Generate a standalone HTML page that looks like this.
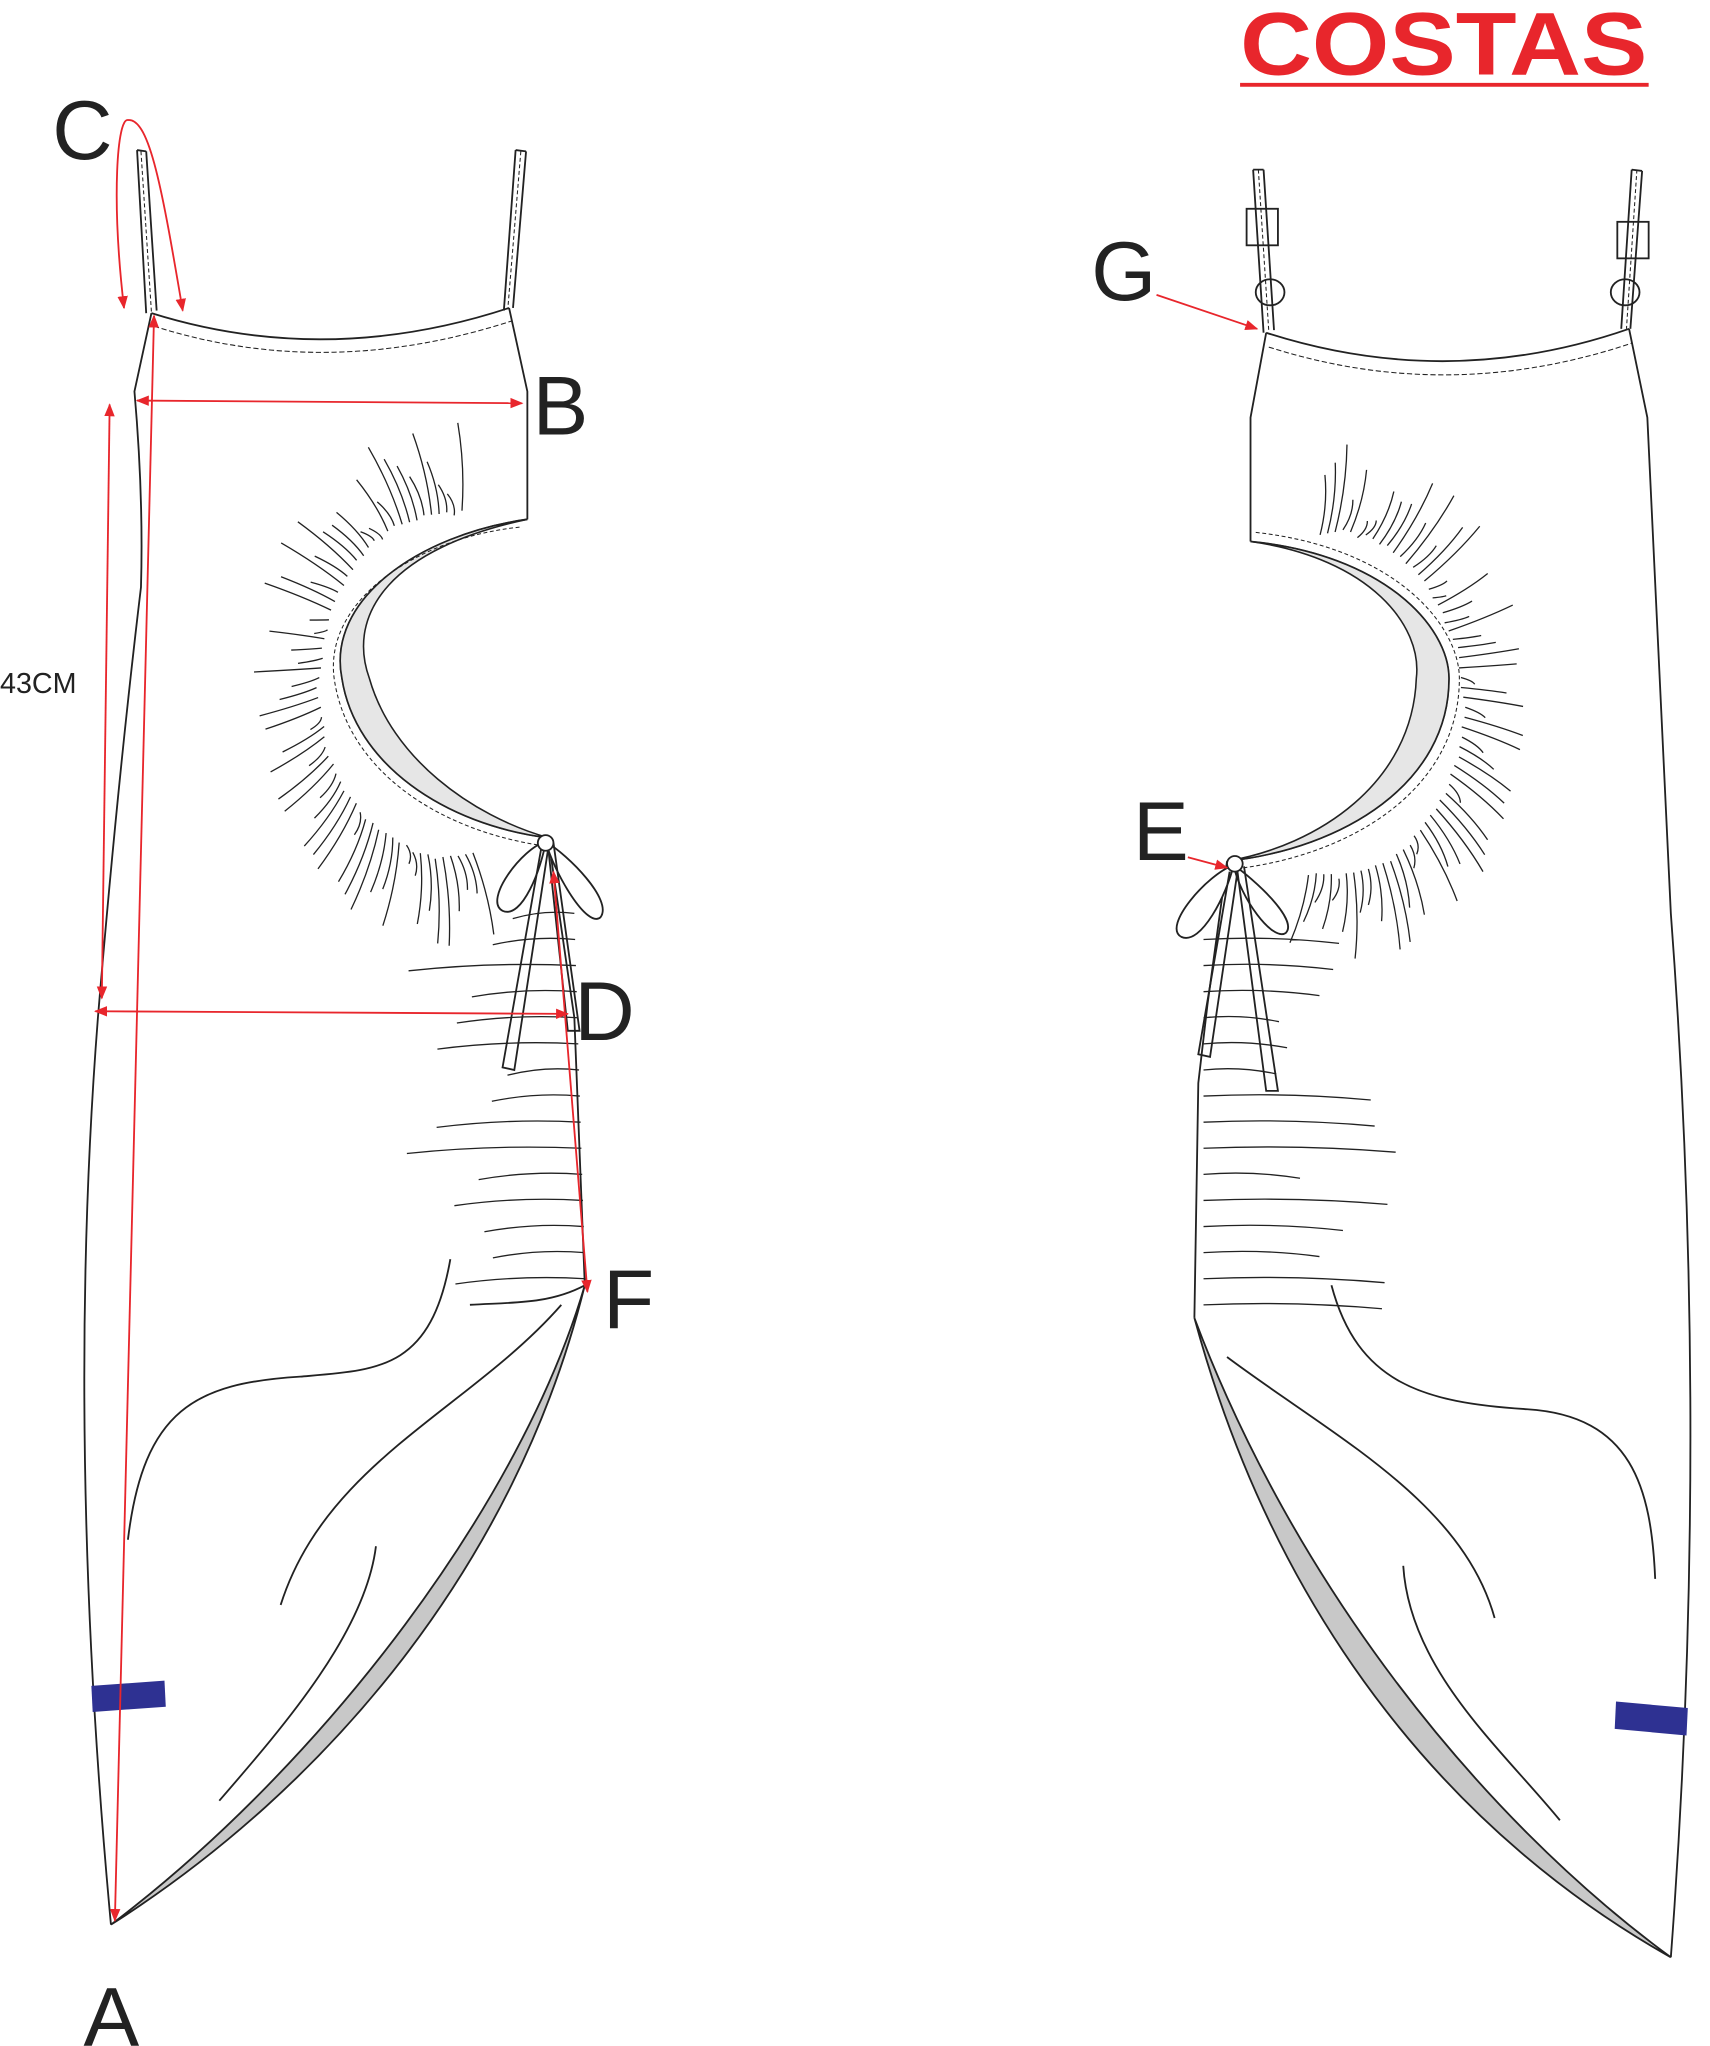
<!DOCTYPE html>
<html><head><meta charset="utf-8"><style>
html,body{margin:0;padding:0;background:#fff}
svg{display:block}
text{font-family:"Liberation Sans",Arial,sans-serif}
</style></head><body>
<svg id="s" width="1710" height="2046" viewBox="0 0 1310 1568" preserveAspectRatio="none" xmlns="http://www.w3.org/2000/svg">
<defs>
<marker id="ar" markerWidth="10" markerHeight="10" refX="9" refY="5" orient="auto-start-reverse" markerUnits="userSpaceOnUse"><path d="M0,1 L10,5 L0,9 z" fill="#e8262c"/></marker>
</defs>
<g fill="none" stroke="#222" stroke-width="1.4">
<!-- LEFT DRESS -->
<path d="M105,115 L112,240 M112,116 L120,238 M105,115 L112,116"/>
<path d="M108,116 L116,239" stroke-dasharray="3,2" stroke-width="0.8"/>
<path d="M395,115 L386,238 M403,116 L393,236 M395,115 L403,116"/>
<path d="M399,116 L389,237" stroke-dasharray="3,2" stroke-width="0.8"/>
<path d="M116,240 Q250,282 390,236"/>
<path d="M118,250 Q250,292 392,246" stroke-dasharray="4,2" stroke-width="0.8"/>
<path d="M116,240 L103,300 Q110,380 108,450 Q90,600 75,780 Q50,1100 85,1475"/>
<path d="M390,236 L404,300 L404,398"/>
<path d="M404,398 C320,410 250,460 262,520 C272,585 340,632 420,642" fill="#fff"/>
<path d="M404,398 C300,420 265,470 283,520 C300,580 360,625 420,642 C340,632 272,585 262,520 C250,460 320,410 404,398z" fill="#e6e6e6" stroke-width="1.2"/>
<path d="M398,404 C320,412 248,460 256,520 C266,590 335,636 415,648" stroke-dasharray="3,2" stroke-width="0.8"/>
<path d="M420,642 L440,780 L448,985"/>
<path d="M448,985 C400,1150 250,1350 85,1475 C250,1370 395,1200 448,985z" fill="#c8c8c8"/>
<!-- bow left -->
<path d="M418,645 C400,650 370,690 385,698 C400,705 415,665 418,645z" fill="#fff"/>
<path d="M418,645 C435,655 470,690 460,703 C450,712 425,670 418,645z" fill="#fff"/>
<path d="M415,648 L385,818 L394,820 L420,650"/>
<path d="M420,650 L435,790 L444,790 L424,646"/>
<circle cx="418" cy="646" r="6" fill="#fff"/>
<!-- drape lines left -->
<path d="M345,965 C330,1050 290,1050 230,1055 C150,1060 110,1080 98,1180"/>
<path d="M430,1000 C360,1080 250,1120 215,1230"/>
<path d="M288,1185 C280,1250 220,1320 168,1380"/>
<path d="M448,985 C420,1000 390,998 360,1000"/>
<!-- RIGHT DRESS -->
<path d="M960,130 L968,255 M968,130 L976,253 M960,130 L968,130"/>
<path d="M964,130 L972,254" stroke-dasharray="3,2" stroke-width="0.8"/>
<path d="M1250,130 L1242,252 M1258,131 L1249,252 M1250,130 L1258,131"/>
<path d="M1254,130 L1246,252" stroke-dasharray="3,2" stroke-width="0.8"/>
<rect x="955" y="160" width="24" height="28"/>
<rect x="1239" y="170" width="24" height="28"/>
<ellipse cx="973" cy="224" rx="11" ry="10"/>
<ellipse cx="1245" cy="224" rx="11" ry="10"/>
<path d="M970,255 Q1110,300 1248,252"/>
<path d="M972,266 Q1110,310 1250,263" stroke-dasharray="4,2" stroke-width="0.8"/>
<path d="M970,255 L958,320 L958,415"/>
<path d="M1248,252 L1262,320 Q1270,500 1280,700 Q1310,1100 1280,1500"/>
<path d="M958,415 C1060,425 1110,480 1110,520 C1110,600 1030,650 940,660" fill="#fff"/>
<path d="M958,415 C1050,428 1090,480 1085,520 C1082,600 1010,648 940,660 C1030,650 1110,600 1110,520 C1110,480 1060,425 958,415z" fill="#e6e6e6" stroke-width="1.2"/>
<path d="M962,408 C1070,420 1118,480 1118,520 C1118,605 1035,656 945,666" stroke-dasharray="3,2" stroke-width="0.8"/>
<path d="M940,660 L925,770 L918,830 L915,1010"/>
<path d="M915,1010 C990,1210 1130,1390 1280,1500 C1120,1410 980,1250 915,1010z" fill="#c8c8c8"/>
<path d="M945,663 C925,670 890,710 905,718 C920,725 940,685 945,663z" fill="#fff"/>
<path d="M945,663 C960,673 995,705 985,715 C975,722 950,688 945,663z" fill="#fff"/>
<path d="M942,668 L918,808 L927,810 L948,668"/>
<path d="M948,668 L970,836 L979,836 L953,664"/>
<circle cx="946" cy="662" r="6" fill="#fff"/>
<path d="M1020,985 C1040,1060 1090,1075 1170,1080 C1250,1085 1265,1140 1268,1210"/>
<path d="M940,1040 C1020,1100 1120,1150 1145,1240"/>
<path d="M1075,1200 C1080,1280 1150,1340 1195,1395"/>
</g>
<g id="gath" fill="none" stroke="#222" stroke-width="1"></g>
<!-- blue tags -->
<polygon points="70,1292 126,1288 127,1308 71,1312" fill="#2e3192"/>
<polygon points="1238,1304 1293,1309 1292,1330 1237,1325" fill="#2e3192"/>
<!-- red annotations -->
<g stroke="#e8262c" stroke-width="1.4" fill="none">
<path d="M95,236 C85,150 90,90 98,92 C115,90 125,150 140,238" marker-end="url(#ar)" marker-start="url(#ar)"/>
<line x1="105" y1="307" x2="400" y2="309" marker-end="url(#ar)" marker-start="url(#ar)"/>
<line x1="84" y1="310" x2="78" y2="765" marker-end="url(#ar)" marker-start="url(#ar)"/>
<line x1="73" y1="775" x2="435" y2="777" marker-end="url(#ar)" marker-start="url(#ar)"/>
<line x1="118" y1="242" x2="88" y2="1472" marker-end="url(#ar)" marker-start="url(#ar)"/>
<line x1="424" y1="668" x2="450" y2="990" marker-end="url(#ar)" marker-start="url(#ar)"/>
<line x1="886" y1="226" x2="963" y2="252" marker-end="url(#ar)"/>
<line x1="910" y1="657" x2="940" y2="665" marker-end="url(#ar)"/>
</g>
<g fill="#222" font-size="64">
<text x="40" y="122">C</text>
<text x="408" y="333">B</text>
<text x="440" y="797">D</text>
<text x="462" y="1018">F</text>
<text x="64" y="1568">A</text>
<text x="836" y="230">G</text>
<text x="868" y="659">E</text>
<text x="0" y="531" font-size="22">43CM</text>
</g>
<text x="950" y="57" font-size="68" font-weight="bold" fill="#e8262c" textLength="312" lengthAdjust="spacingAndGlyphs">COSTAS</text>
<line x1="950" y1="65" x2="1263" y2="65" stroke="#e8262c" stroke-width="3"/>
</svg>
<script>
(function(){
var g=document.getElementById('gath'),ns='http://www.w3.org/2000/svg',d='';
function rnd(i){var x=Math.sin(i*12.9898)*43758.5453;return x-Math.floor(x);}
function ring(cx,cy,rx,ry,a0,a1,n,dir,seed){
 for(var i=0;i<n;i++){var a=(a0+(a1-a0)*i/(n-1))*Math.PI/180;
  var r1=1.1+0.04*rnd(seed+i),L=0.1+0.5*rnd(seed+i+100);
  var x1=cx+dir*rx*r1*Math.cos(a),y1=cy+ry*r1*Math.sin(a);
  var x2=cx+dir*rx*(r1+L)*Math.cos(a+0.05),y2=cy+ry*(r1+L)*Math.sin(a+0.05);
  d+='M'+x1.toFixed(1)+','+y1.toFixed(1)+' Q'+((x1+x2)/2+4).toFixed(1)+','+((y1+y2)/2).toFixed(1)+' '+x2.toFixed(1)+','+y2.toFixed(1)+' ';
 }}
ring(345,525,90,118,-95,100,60,-1,1);
ring(1020,540,90,118,-95,100,60,1,7);
for(var i=0;i<15;i++){var y=700+i*20,x2=440+(y-700)*0.03,len=30+110*rnd(i+300);
 d+='M'+(x2-len).toFixed(1)+','+(y+4)+' Q'+(x2-len/2)+','+(y-3)+' '+x2.toFixed(1)+','+y+' ';}
for(var i=0;i<15;i++){var y=720+i*20,x1=922,len=30+120*rnd(i+500);
 d+='M'+x1+','+y+' Q'+(x1+len/2)+','+(y-3)+' '+(x1+len).toFixed(1)+','+(y+3)+' ';}
var p=document.createElementNS(ns,'path');p.setAttribute('d',d);g.appendChild(p);
})();
</script>
</body></html>
